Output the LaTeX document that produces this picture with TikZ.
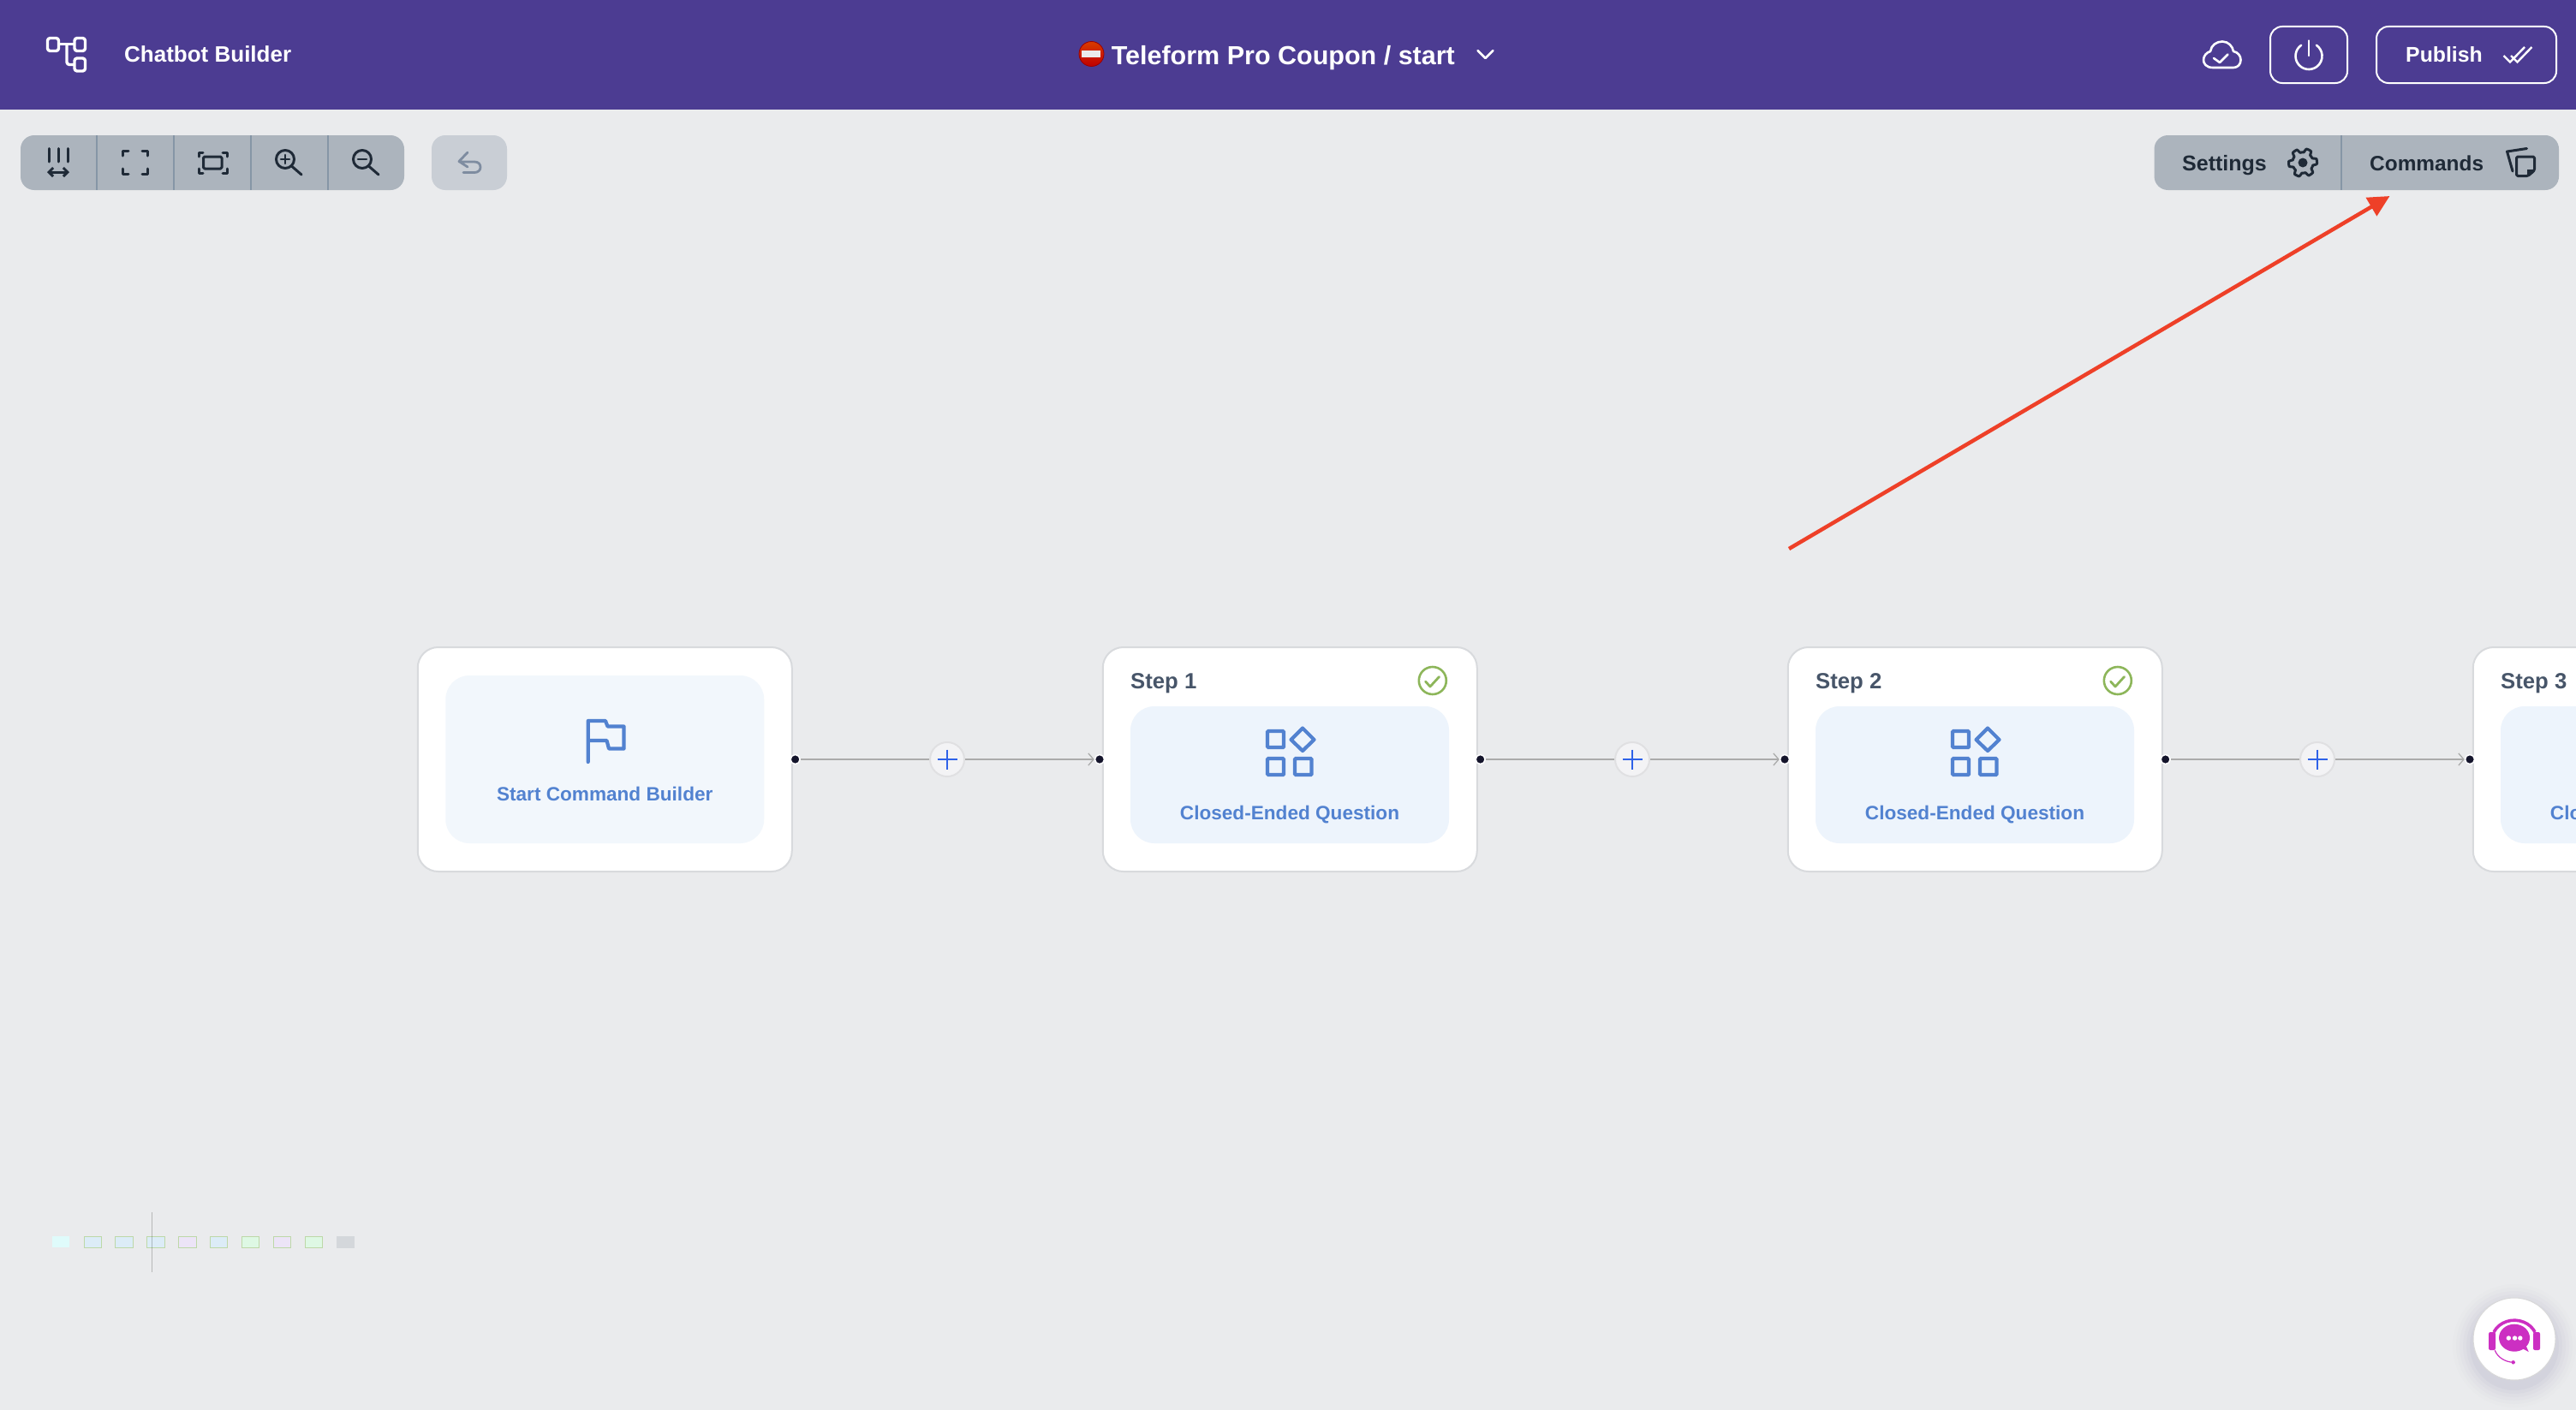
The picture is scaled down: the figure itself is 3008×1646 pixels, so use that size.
\documentclass[tikz,border=0pt]{standalone}
\usepackage{fontspec}
\usetikzlibrary{arrows.meta,calc}
\setmainfont{Liberation Sans}
\newcommand{\medfont}{\bfseries}
\definecolor{pagebg}{HTML}{EAEBED}
\definecolor{hdr}{HTML}{4C3C92}
\definecolor{tbar}{HTML}{ACB4BD}
\definecolor{tdiv}{HTML}{8696A6}
\definecolor{undobg}{HTML}{C9CED5}
\definecolor{undofg}{HTML}{7E8CA0}
\definecolor{ink}{HTML}{1F2A37}
\definecolor{cardline}{HTML}{D8DADD}
\definecolor{panelA}{HTML}{F2F7FC}
\definecolor{panelB}{HTML}{EDF4FC}
\definecolor{iconblue}{HTML}{5282D0}
\definecolor{steptxt}{HTML}{475569}
\definecolor{okgreen}{HTML}{8DB65A}
\definecolor{wirec}{HTML}{ABABAB}
\definecolor{dotc}{HTML}{14142B}
\definecolor{plusfill}{HTML}{F3F3F5}
\definecolor{plusline}{HTML}{E0E0E2}
\definecolor{plusblue}{HTML}{2F62E8}
\definecolor{redarrow}{HTML}{EE4028}
\definecolor{chat}{HTML}{CC2FC2}
\definecolor{mmline}{HTML}{BDD8A8}
\definecolor{mmblue}{HTML}{DCECF7}
\definecolor{mmpurple}{HTML}{ECE4F7}
\definecolor{mmgreen}{HTML}{DEF8E4}
\definecolor{mmcyan}{HTML}{DFFBFB}
\definecolor{mmgrey}{HTML}{D4D7DB}
\tikzset{
  x=1pt,y=-1pt,
  cardbox/.style={draw=cardline,line width=2pt,fill=white,rounded corners=24pt,minimum width=437pt,minimum height=262pt,inner sep=0pt},
  panelbox/.style={rounded corners=28pt,minimum width=372pt,inner sep=0pt},
  barbox/.style={fill=tbar,rounded corners=16pt,minimum height=64pt,inner sep=0pt},
  hdrbtn/.style={draw=white,line width=2pt,rounded corners=14pt,minimum height=66pt,inner sep=0pt},
  hdrtxt/.style={text=white,inner sep=0pt,anchor=base west,font=\medfont\fontsize{26}{29}\selectfont},
  bartxt/.style={text=ink,inner sep=0pt,anchor=base west,font=\medfont\fontsize{25}{27}\selectfont},
  nodetxt/.style={text=iconblue,inner sep=0pt,anchor=base,font=\medfont\fontsize{22.6}{25}\selectfont},
  steptxtst/.style={text=steptxt,inner sep=0pt,anchor=base west,font=\medfont\fontsize{25.7}{27}\selectfont},
  portdot/.style={circle,fill=dotc,draw=white,line width=1.5pt,minimum size=11pt,inner sep=0pt},
  plusbtn/.style={circle,fill=plusfill,draw=plusline,line width=2pt,minimum size=40pt,inner sep=0pt},
  wire/.style={draw=wirec,line width=2pt},
  wirearrow/.style={wire,-{Straight Barb[length=6pt,width=14pt,line width=1.3pt]}},
  plusmark/.style={draw=plusblue,line width=2.4pt},
  blueicon/.style={draw=iconblue,line width=4.2pt},
  tbicon/.style={draw=ink,line width=3pt,line cap=round,line join=round},
  whiteicon/.style={draw=white,line width=2.6pt,line cap=round,line join=round},
}
\begin{document}
\begin{tikzpicture}
\useasboundingbox (0,0) rectangle (3008,1646);
\clip (0,0) rectangle (3008,1646);
\fill[pagebg] (-2,-2) rectangle (3010,1648);
\fill[hdr] (-2,-2) rectangle (3010,128);

% header left
\begin{scope}[draw=white,line width=3.4pt,line join=round]
\draw[rounded corners=3pt] (55.5,44.5) rectangle (68.5,59.5);
\draw[rounded corners=3pt] (87,44.5) rectangle (99.5,59.5);
\draw[rounded corners=3pt] (87,68) rectangle (99.5,83);
\draw (68.5,51.5) -- (87,51.5);
\draw[rounded corners=3pt] (78,51.5) -- (78,75.5) -- (87,75.5);
\end{scope}
\node[hdrtxt] (brand) at (145,73) {Chatbot Builder};

% title
\shade[top color=red!45!orange!85!black,bottom color=red!75!black] (1274.5,63) circle (14.5);
\draw[red!60!black,line width=.8pt] (1274.5,63) circle (14.5);
\fill[white!92!black] (1263,59) rectangle (1285,67);
\node[hdrtxt,font=\medfont\fontsize{30.5}{33}\selectfont] (title) at (1297.6,75) {Teleform Pro Coupon / start};
\draw[whiteicon] (1725.5,59) -- (1734.5,68) -- (1743.5,59);

% header right
\draw[whiteicon] (2584,79) .. controls (2576,79) and (2573,74) .. (2573,70) .. controls (2573,65) and (2577,61) .. (2581,60) .. controls (2582,53) and (2588,48.5) .. (2595,48.5) .. controls (2602,48.5) and (2607,54) .. (2608,60) .. controls (2613,61) and (2616.5,65) .. (2616.5,70) .. controls (2616.5,75) and (2613,79) .. (2608,79) -- cycle;
\draw[whiteicon] (2585,68) -- (2592,73) -- (2601.5,63.5);
\node[hdrbtn,minimum width=90pt] (power) at (2696,64) {};
\draw[whiteicon] (2696,47.5) -- (2696,65);
\draw[whiteicon] (2696,65.5) +(-125:15.5) arc[start angle=-125,end angle=-415,radius=15.5];
\node[hdrbtn,minimum width=210pt] (publish) at (2880,64) {};
\node[hdrtxt,font=\medfont\fontsize{24.8}{27}\selectfont] (publishtxt) at (2809,73) {Publish};
\draw[white,line width=2.4pt] (2923.5,65) -- (2931,72.5) -- (2948,55);
\draw[white,line width=2.4pt] (2932,65) -- (2939.5,72.5) -- (2956.4,55);

% toolbar
\node[barbox,minimum width=448pt] (tools) at (248,190) {};
\foreach \x in {113,203,293,383}{\draw[tdiv,line width=2pt] (\x,158) -- (\x,222);}
\begin{scope}[tbicon]
\draw (57,173.5) -- (57,189) (68,173.5) -- (68,189) (79,173.5) -- (79,189);
\draw[{Straight Barb[length=5pt,width=10pt]}-{Straight Barb[length=5pt,width=10pt]}] (55,201) -- (81,201);
\draw (143.5,182) -- (143.5,176) -- (150,176) (166,176) -- (172.5,176) -- (172.5,182) (143.5,197) -- (143.5,203.5) -- (150,203.5) (166,203.5) -- (172.5,203.5) -- (172.5,197);
\draw (232,183) -- (232,178) -- (237,178) (260,178) -- (265,178) -- (265,183) (232,197) -- (232,202) -- (237,202) (260,202) -- (265,202) -- (265,197);
\draw[rounded corners=1.5pt] (237.5,183) rectangle (259,197);
\draw (333,186) circle (10.5);
\draw (340.5,194) -- (352,204);
\draw[line width=2.6pt] (328,186) -- (338,186) (333,181) -- (333,191);
\draw (423,186) circle (10.5);
\draw (430.5,194) -- (442,204);
\draw[line width=2.6pt] (418,186) -- (428,186);
\end{scope}
\node[fill=undobg,rounded corners=16pt,minimum width=88pt,minimum height=64pt,inner sep=0pt] (undo) at (548,190) {};
\draw[draw=undofg,line width=2.8pt,line cap=round,line join=round] (546,178) -- (536,188.5) -- (546,195) (536,189) -- (554,189) .. controls (559,189) and (561,192) .. (561,195.5) .. controls (561,199) and (558,201.5) .. (554,201.5) -- (541,201.5);

% right bar
\node[barbox,minimum width=472.5pt] (rbar) at (2751.75,190) {};
\draw[tdiv,line width=2pt] (2734,158) -- (2734,222);
\node[bartxt,font=\medfont\fontsize{25}{27}\selectfont] (settings) at (2548,199) {Settings};
\node[bartxt,font=\medfont\fontsize{24.4}{27}\selectfont] (commands) at (2767,199) {Commands};
\begin{scope}[shift={(2689,190)}]
\draw[ink,line width=3pt,line join=round] plot[domain=0:360,samples=145] (\x:{14.3+2.2*max(-1,min(1,2.2*cos(6*\x+30)))}) -- cycle;
\fill[ink] (0,0) circle (5.5);
\end{scope}
\draw[ink,line width=3pt,line join=round,line cap=round] (2934,200) -- (2927.5,177) -- (2950.5,173.5);
\draw[ink,line width=3pt,line join=round,rounded corners=1.5pt] (2938.5,183) -- (2959.5,183) -- (2959.5,199) -- (2952,205.5) -- (2938.5,205.5) -- cycle;
\fill[ink] (2959.5,198) -- (2951,198) -- (2951,206) -- cycle;

% red annotation arrow
\coordinate (arrowstart) at (2089,641);
\coordinate (arrowtip) at (2790.5,229);
\draw[redarrow,line width=4.5pt,-{Triangle[length=25pt,width=24pt]}] (arrowstart) -- (arrowtip);

% cards
\node[cardbox] (card0) at (706.25,887) {};
\node[panelbox,fill=panelA,minimum height=196pt] (panel0) at (706.25,887) {};
\draw[blueicon,line join=round,line cap=round] (686.7,890) -- (686.7,842) -- (707,842) -- (709.5,848.5) -- (728.5,848.5) -- (728.5,874.5) -- (711,874.5) -- (708.5,865) -- (686.7,865);
\node[nodetxt] (label0) at (706.25,935) {Start Command Builder};

\foreach \k in {1,2,3}{
  \pgfmathsetmacro{\dx}{800*(\k-1)}
  \node[cardbox] (card\k) at ({1506.25+\dx},887) {};
  \node[panelbox,fill=panelB,minimum height=160pt] (panel\k) at ({1506+\dx},905) {};
  \node[steptxtst] (step\k) at ({1320+\dx},804) {Step \k};
  \begin{scope}[xshift=\dx pt]
    \draw[okgreen,line width=2.6pt] (1672.8,795) circle (16);
    \draw[okgreen,line width=2.8pt,line cap=round,line join=round] (1664.5,796) -- (1670,802) -- (1680.5,790.5);
    \draw[blueicon,rounded corners=1pt] (1480,854) rectangle (1499,873);
    \draw[blueicon,rounded corners=1pt] (1480,886) rectangle (1499,905);
    \draw[blueicon,rounded corners=1pt] (1512,886) rectangle (1531.5,905);
    \draw[blueicon,line join=round] (1521,850.5) -- (1534.5,864) -- (1521,877) -- (1507.5,864) -- cycle;
  \end{scope}
  \node[nodetxt] (label\k) at ({1506+\dx},957) {Closed-Ended Question};
}

% connectors
\foreach \k/\n in {0/1,1/2,2/3}{
  \pgfmathsetmacro{\dx}{800*\k}
  \node[portdot] (out\k) at ({928.6+\dx},887) {};
  \node[portdot] (in\n) at ({1284+\dx},887) {};
  \node[plusbtn] (plus\k) at ({1106+\dx},887) {};
  \draw[wire] (out\k) -- (plus\k);
  \draw[wirearrow] (plus\k) -- (in\n);
  \draw[plusmark] (plus\k.center) +(-11.5,0) -- +(11.5,0) +(0,-11.5) -- +(0,11.5);
}

% minimap
\node[minimum width=20pt,minimum height=13pt,inner sep=0pt,fill=mmcyan] (mm0) at (71.2,1450.8) {};
\foreach \i/\a/\b/\c in {1/98.3/118.7/mmblue,2/134.3/155.7/mmblue,3/171.3/192.7/mmblue,4/208.3/229.7/mmpurple,5/245.3/265.7/mmblue,6/282.3/302.7/mmgreen,7/319.3/339.7/mmpurple,8/356.3/376.7/mmgreen}{
  \fill[\c] (\a,1444.5) rectangle (\b,1457.2);
  \draw[mmline,line width=1.1pt] (\a,1444.5) rectangle (\b,1457.2);
}
\fill[mmgrey] (393,1444.3) rectangle (414,1457.5);
\draw[black,opacity=.22,line width=1.1pt] (177.3,1416) -- (177.3,1486);

% chat widget
\foreach \r/\o in {72/.012,68/.016,64/.02,60/.025,56/.03,52/.04}{
  \fill[black!45!blue!40!gray,opacity=\o] (2936,1572) circle (\r);
}
\node[circle,fill=white,draw=black!15,line width=1pt,minimum size=96pt,inner sep=0pt] (chatbtn) at (2936,1564) {};
\fill[chat] (2936,1562.7) ellipse[x radius=18,y radius=16];
\fill[chat] (2943,1574) -- (2952.7,1579) -- (2947,1566) -- cycle;
\fill[white] (2929.3,1563) circle (2.7) (2936.5,1563) circle (2.7) (2942.8,1563) circle (2.7);
\draw[chat,line width=3.6pt] (2912,1556) arc[start angle=-155,end angle=-25,x radius=26.5,y radius=24];
\fill[chat,rounded corners=2pt] (2906,1556) rectangle (2914,1577);
\fill[chat,rounded corners=2pt] (2958,1556) rectangle (2966,1577);
\draw[chat,line width=1.2pt] (2913.3,1577.3) .. controls (2916,1585) and (2925,1591) .. (2934.7,1591.3);
\fill[chat] (2934.7,1591.3) circle (2.2);
\end{tikzpicture}
\end{document}
